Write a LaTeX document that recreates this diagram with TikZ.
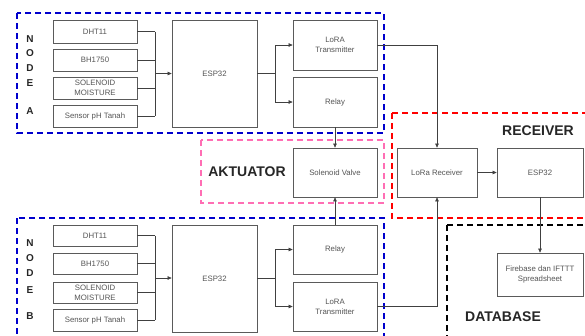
\documentclass[tikz,border=0pt]{standalone}
\usepackage{fontspec}
\setmainfont{Liberation Sans}
\usetikzlibrary{arrows.meta}
\definecolor{nodeblue}{HTML}{0000CC}
\definecolor{recred}{HTML}{FF0000}
\definecolor{actpink}{HTML}{FF6EB4}
\definecolor{boxgray}{HTML}{5A5A5A}
\definecolor{txtgray}{HTML}{555555}
\begin{document}
\begin{tikzpicture}[x=1pt,y=-1pt,
  blk/.style={draw=boxgray, line width=0.7pt, fill=white, inner sep=0pt, font=\fontsize{7.8}{10}\selectfont, text=txtgray, align=center},
  grp/.style={line width=1.6pt, dash pattern=on 6pt off 4pt},
  conn/.style={draw=black!75, line width=0.6pt},
  arr/.style={conn, -{Triangle[length=4pt,width=3.5pt]}},
  lbl/.style={font=\bfseries\fontsize{14}{16}\selectfont, text=black!85},
  nlbl/.style={font=\bfseries\fontsize{10}{11}\selectfont, text=black!85, inner sep=0pt}
]
\useasboundingbox (0,0) rectangle (585,335);
% group frames
\draw[grp, draw=nodeblue] (17,13) rectangle (384,133);
\draw[grp, draw=nodeblue] (17,218) rectangle (384,345);
\draw[grp, draw=actpink] (201,140) rectangle (384,203);
\draw[grp, draw=recred] (392,113) rectangle (595,218);
\draw[grp, draw=black] (447,225) rectangle (595,345);

% ---- NODE A ----
\node[nlbl] at (30,39) {N};
\node[nlbl] at (30,53) {O};
\node[nlbl] at (30,68) {D};
\node[nlbl] at (30,83) {E};
\node[nlbl] at (30,111) {A};
\node[blk, minimum width=84pt, minimum height=23pt] (a1) at (95,31.5) {DHT11};
\node[blk, minimum width=84pt, minimum height=22pt] (a2) at (95,60) {BH1750};
\node[blk, minimum width=84pt, minimum height=22pt] (a3) at (95,88) {SOLENOID\\MOISTURE};
\node[blk, minimum width=84pt, minimum height=22pt] (a4) at (95,116) {Sensor pH Tanah};
\node[blk, minimum width=85pt, minimum height=107pt] (ae) at (214.5,73.5) {ESP32};
\node[blk, minimum width=84pt, minimum height=50pt] (at) at (335,45) {LoRA\\Transmitter};
\node[blk, minimum width=84pt, minimum height=50pt] (ar) at (335,102) {Relay};
\coordinate (abus) at (155,73.5);
\foreach \s in {a1,a2,a3,a4} \draw[conn] (\s.east) -- (\s.east -| abus);
\draw[conn] (a1.east -| abus) -- (a4.east -| abus);
\draw[arr] (abus) -- (ae.west);
\coordinate (asplit) at (275,73.5);
\draw[conn] (ae.east) -- (asplit);
\draw[arr] (asplit) |- (at.west);
\draw[arr] (asplit) |- (ar.west);

% ---- AKTUATOR ----
\node[lbl] at (247,172) {AKTUATOR};
\node[blk, minimum width=84pt, minimum height=49pt] (sv) at (335,172.5) {Solenoid Valve};
\draw[arr] (ar.south) -- (sv.north);

% ---- NODE B ----
\node[nlbl] at (30,243) {N};
\node[nlbl] at (30,258) {O};
\node[nlbl] at (30,273) {D};
\node[nlbl] at (30,290) {E};
\node[nlbl] at (30,316) {B};
\node[blk, minimum width=84pt, minimum height=21pt] (b1) at (95,235.5) {DHT11};
\node[blk, minimum width=84pt, minimum height=21pt] (b2) at (95,263.5) {BH1750};
\node[blk, minimum width=84pt, minimum height=21pt] (b3) at (95,292.5) {SOLENOID\\MOISTURE};
\node[blk, minimum width=84pt, minimum height=22pt] (b4) at (95,320) {Sensor pH Tanah};
\node[blk, minimum width=85pt, minimum height=107pt] (be) at (214.5,278.5) {ESP32};
\node[blk, minimum width=84pt, minimum height=49pt] (br) at (335,249.5) {Relay};
\node[blk, minimum width=84pt, minimum height=49pt] (bt) at (335,306.5) {LoRA\\Transmitter};
\coordinate (bbus) at (155,278);
\foreach \s in {b1,b2,b3,b4} \draw[conn] (\s.east) -- (\s.east -| bbus);
\draw[conn] (b1.east -| bbus) -- (b4.east -| bbus);
\draw[arr] (bbus) -- (bbus -| be.west);
\coordinate (bsplit) at (275,278);
\draw[conn] (bsplit -| be.east) -- (bsplit);
\draw[arr] (bsplit) |- (br.west);
\draw[arr] (bsplit) |- (bt.west);
\draw[arr] (br.north) -- (sv.south);

% ---- RECEIVER ----
\node[lbl] at (538,131) {RECEIVER};
\node[blk, minimum width=80pt, minimum height=49pt] (lr) at (437,172.5) {LoRa Receiver};
\node[blk, minimum width=86pt, minimum height=49pt] (re) at (540,172.5) {ESP32};
\draw[arr] (lr.east) -- (re.west);
\draw[arr] (at.east) -| (lr.north);
\draw[arr] (bt.east) -| (lr.south);

% ---- DATABASE ----
\node[lbl] at (503,317) {DATABASE};
\node[blk, minimum width=86pt, minimum height=43pt] (fb) at (540,274.5) {Firebase dan IFTTT\\Spreadsheet};
\draw[arr] (re.south) -- (fb.north);
\end{tikzpicture}
\end{document}
